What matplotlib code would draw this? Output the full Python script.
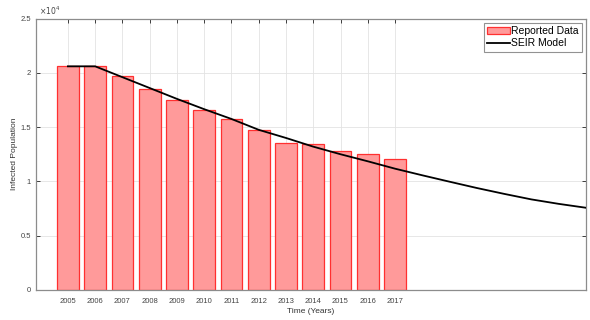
import matplotlib.pyplot as plt
from matplotlib.ticker import FuncFormatter

plt.rcParams['font.family'] = ['Liberation Sans', 'DejaVu Sans']

# data
years = [2005, 2006, 2007, 2008, 2009, 2010, 2011, 2012, 2013, 2014, 2015, 2016, 2017]
reported = [20650, 20650, 19750, 18530, 17510, 16590, 15760, 14750, 13490, 13430, 12840, 12500, 12100]

model_years = list(range(2005, 2025))
model_values = [20600, 20600, 19600, 18600, 17600, 16650, 15750, 14750, 14000, 13200,
                12500, 11850, 11170, 10560, 9970, 9390, 8850, 8340, 7930, 7570]

fig = plt.figure(figsize=(5.9, 3.2), dpi=100)
ax = fig.add_axes([0.061, 0.094, 0.932, 0.848])

bars = ax.bar(years, reported, width=0.8, color='#ff9a9a', edgecolor='#ff3030',
              linewidth=0.9, label='Reported Data', zorder=2)
line, = ax.plot(model_years, model_values, color='black', linewidth=1.3,
                label='SEIR Model', zorder=3)

ax.set_xlim(2003.83, 2024)
ax.set_ylim(0, 25000)
ax.set_xticks(years)
ax.set_xticklabels([str(y) for y in years])
ax.set_yticks([0, 5000, 10000, 15000, 20000, 25000])
ax.yaxis.set_major_formatter(FuncFormatter(lambda v, p: '%g' % (v / 1e4)))

ax.grid(True, color='#e3e3e3', linewidth=0.6, zorder=0)
ax.set_axisbelow(True)
ax.tick_params(direction='in', length=3, width=0.6, labelsize=5.5,
               colors='#222222', labelcolor='#444444', top=True, right=True)
ax.tick_params(axis='x', pad=6)
for s in ax.spines.values():
    s.set_color('#8c8c8c')
    s.set_linewidth(0.9)

ax.text(0.005, 1.005, r'$\times10^4$', transform=ax.transAxes, fontsize=5.5,
        color='#444444', va='bottom', ha='left')

ax.set_xlabel('Time (Years)', fontsize=6, color='#333333', labelpad=2)
ax.set_ylabel('Infected Population', fontsize=6, color='#333333', labelpad=2)

leg = ax.legend([bars, line], ['Reported Data', 'SEIR Model'], loc='upper right',
                fontsize=7.5, frameon=True, fancybox=False, borderpad=0.3,
                handlelength=2.2, handletextpad=0.1, borderaxespad=0.4,
                labelspacing=0.25)
leg.get_frame().set_edgecolor('#777777')
leg.get_frame().set_linewidth(0.8)

fig.savefig('out.png', dpi=100)
